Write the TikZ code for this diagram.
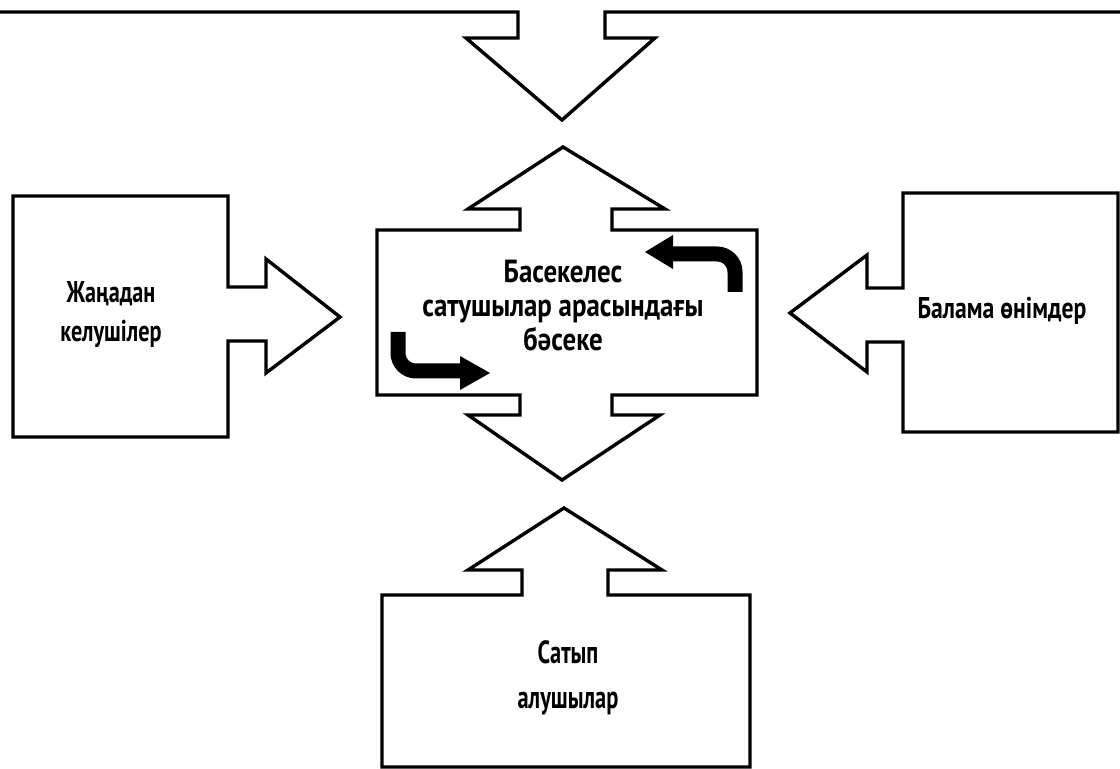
\documentclass[tikz,border=0pt]{standalone}
\usepackage{fontspec}
\setmainfont{PT Sans}
\newfontfamily\rivalryfont{PT Sans}[FakeStretch=0.84]
\newfontfamily\sidefont{PT Sans}[FakeStretch=0.79]
\newfontfamily\entrantfont{PT Sans}[FakeStretch=0.74]
\newfontfamily\buyerfont{PT Sans}[FakeStretch=0.70]
\begin{document}
\begin{tikzpicture}[x=0.5pt,y=-0.5pt,
  outline/.style={draw=black, line width=1.7pt, line join=miter, fill=white},
  label/.style={align=center, inner sep=0pt},
  turnarrow/.style={draw=black, line width=7.5pt, rounded corners=9pt},
  turnhead/.style={fill=black}]
\useasboundingbox (0,0) rectangle (1120,769);

% upper force: box running off the top edge, with its arrow pointing down
\draw[outline] (-10,12) -- (518,12) -- (518,38) -- (466,38) -- (562,120)
  -- (655,38) -- (605,38) -- (605,12) -- (1130,12);

% centre: rivalry box with arrows up and down
\draw[outline] (563,147) -- (665,209) -- (612,209) -- (612,230) -- (757,230)
  -- (757,395) -- (612,395) -- (612,415) -- (660,415) -- (562,480)
  -- (468,415) -- (520,415) -- (520,395) -- (377,395) -- (377,230)
  -- (520,230) -- (520,209) -- (468,209) -- cycle;

% left: new entrants
\draw[outline] (13,196) -- (228,196) -- (228,287) -- (266,287) -- (266,259)
  -- (340,317) -- (266,373) -- (266,341) -- (228,341) -- (228,437)
  -- (13,437) -- cycle;

% right: substitutes
\draw[outline] (1118,193) -- (903,193) -- (903,288) -- (867,288) -- (867,255)
  -- (790,313) -- (867,372) -- (867,342) -- (903,342) -- (903,432)
  -- (1118,432) -- cycle;

% bottom: buyers
\draw[outline] (382,767) -- (382,595) -- (522,595) -- (522,570) -- (468,570)
  -- (564,508) -- (662,570) -- (608,570) -- (608,595) -- (750,595)
  -- (750,767) -- cycle;

% turning arrows inside the rivalry box
\draw[turnarrow] (735,292) -- (735,254) -- (672,254);
\fill[turnhead] (673,235) -- (645,252) -- (673,269) -- cycle;
\draw[turnarrow] (398,332) -- (398,371) -- (461,371);
\fill[turnhead] (460,356) -- (490,373) -- (460,390) -- cycle;

% labels
\node[label, font=\rivalryfont\bfseries\fontsize{16}{17}\selectfont] (rivalry) at (563,306)
  {Басекелес\\сатушылар арасындағы\\бәсеке};
\node[label, font=\entrantfont\bfseries\fontsize{15}{19.5}\selectfont] (entrants) at (111,315)
  {Жаңадан\\келушілер};
\node[label, font=\sidefont\bfseries\fontsize{15}{17}\selectfont] (substitutes) at (1002,311)
  {Балама өнімдер};
\node[label, font=\buyerfont\bfseries\fontsize{16}{22.5}\selectfont] (buyers) at (568,678)
  {Сатып\\алушылар};
\end{tikzpicture}
\end{document}
